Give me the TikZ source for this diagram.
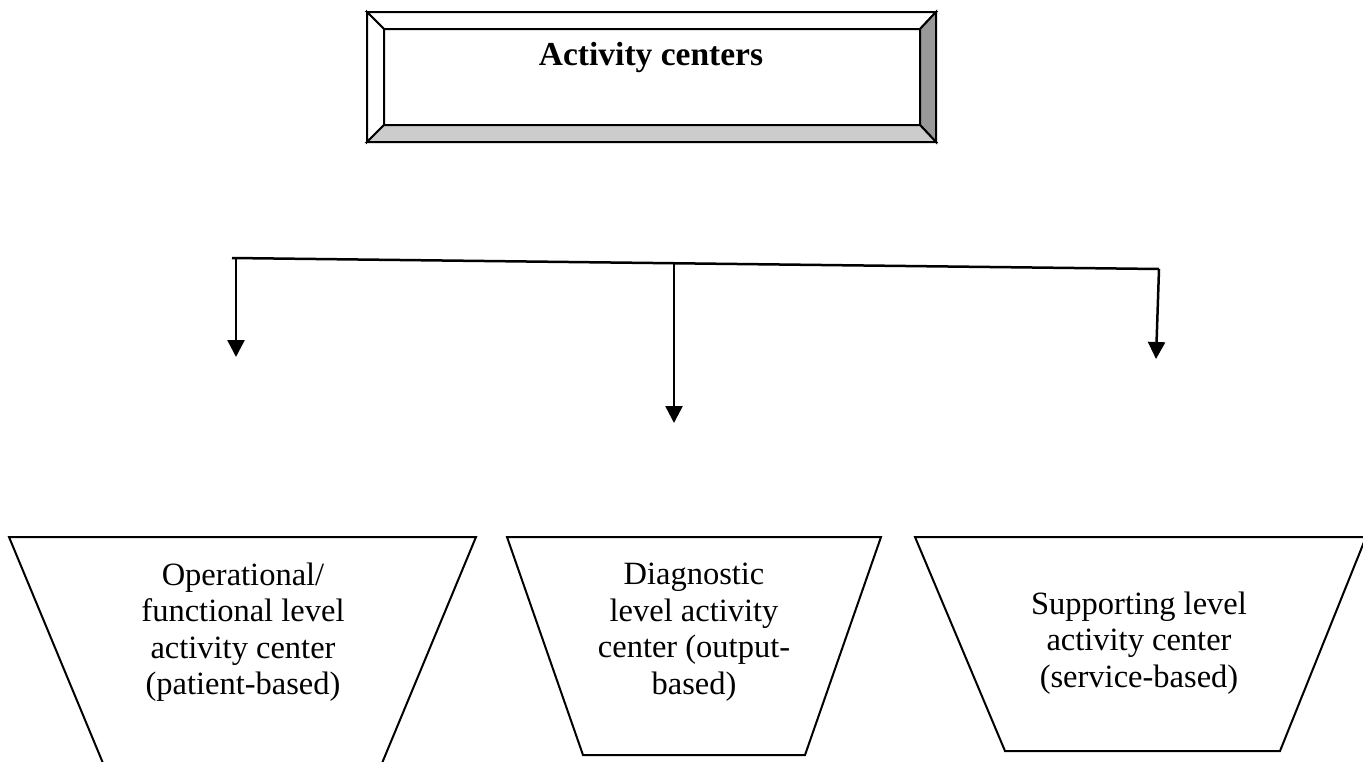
\documentclass[tikz,border=0pt]{standalone}
\usepackage{fontspec}
\setmainfont{Liberation Serif}
\usetikzlibrary{arrows.meta}
\tikzset{
  conn/.style={line width=2.5pt,-{Triangle[width=17pt,length=17pt]}},
  bar/.style={line width=2.5pt},
  trap/.style={draw,line width=2pt,line join=miter},
  lbl/.style={align=center,font=\fontsize{32.5}{36.5}\selectfont,inner sep=0pt},
  bevel/.style={draw,line width=2pt,line join=miter},
}
\begin{document}
\begin{tikzpicture}[x=1pt,y=-1pt]
\useasboundingbox (0,0) rectangle (1363,761);
\fill[white] (0,0) rectangle (1363,761);
% top bevelled box
\coordinate (o1) at (367,12); \coordinate (o2) at (936,12);
\coordinate (o3) at (936,142); \coordinate (o4) at (367,142);
\coordinate (i1) at (384,29); \coordinate (i2) at (920,29);
\coordinate (i3) at (920,125); \coordinate (i4) at (384,125);
\filldraw[bevel,fill=white] (o1) -- (o2) -- (i2) -- (i1) -- cycle;
\filldraw[bevel,fill=white] (o1) -- (i1) -- (i4) -- (o4) -- cycle;
\filldraw[bevel,fill=black!40] (o2) -- (o3) -- (i3) -- (i2) -- cycle;
\filldraw[bevel,fill=black!20] (o4) -- (i4) -- (i3) -- (o3) -- cycle;
\draw[bevel] (i1) rectangle (i3);
\node[font=\fontsize{33.5}{36.5}\selectfont\bfseries,inner sep=0pt] (top) at (651,57) {Activity centers};
% connectors
\coordinate (hl) at (236,258);
\coordinate (hm) at (674,263.5);
\coordinate (hr) at (1159,269);
\coordinate (al) at (236,357);
\coordinate (am) at (674,423);
\coordinate (ar) at (1156,359);
\draw[bar] (232,258) -- (hr);
\draw[conn] (hl) -- (al);
\draw[conn] (hm) -- (am);
\draw[conn] (hr) -- (ar);
% trapezoids
\begin{scope}
\clip (0,0) rectangle (1363,761);
\draw[trap] (9,537) -- (476,537) -- (375,780) -- (110,780) -- cycle;
\draw[trap] (507,537) -- (881,537) -- (805,755) -- (583,755) -- cycle;
\draw[trap] (915,537) -- (1366,537) -- (1280,751) -- (1005,751) -- cycle;
\end{scope}
\node[lbl] (c1) at (243,632) {Operational/\\functional level\\activity center\\(patient-based)};
\node[lbl] (c2) at (694,632) {Diagnostic\\level activity\\center (output-\\based)};
\node[lbl] (c3) at (1139,643) {Supporting level\\activity center\\(service-based)};
\end{tikzpicture}
\end{document}
